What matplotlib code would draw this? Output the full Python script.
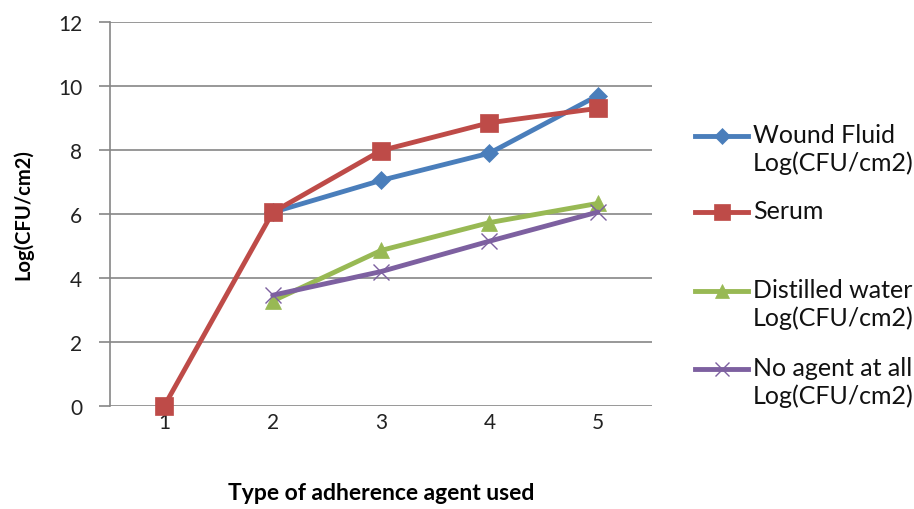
import matplotlib
matplotlib.use('Agg')
from matplotlib import pyplot as plt
from matplotlib.lines import Line2D

plt.rcParams['font.family'] = ['Lato', 'DejaVu Sans']

x = [1, 2, 3, 4, 5]
wound_fluid = [None, 6.05, 7.05, 7.9, 9.7]
serum = [0, 6.05, 7.98, 8.85, 9.3]
distilled = [None, 3.28, 4.86, 5.73, 6.33]
no_agent = [None, 3.46, 4.2, 5.15, 6.06]

labels = ['Wound Fluid\nLog(CFU/cm2)', 'Serum',
          'Distilled water\nLog(CFU/cm2)', 'No agent at all\nLog(CFU/cm2)']
colors = ['#4a7ebb', '#be4b48', '#98b954', '#7d60a0']
markers = ['D', 's', '^', 'x']
msizes = [9, 13, 12, 12]
series = [wound_fluid, serum, distilled, no_agent]

fig = plt.figure(figsize=(9.14, 5.10), dpi=100)
ax = fig.add_axes([0.1204, 0.202, 0.5930, 0.753])

for ys, c, m, ms in zip(series, colors, markers, msizes):
    xs = [a for a, b in zip(x, ys) if b is not None]
    yv = [b for b in ys if b is not None]
    ax.plot(xs, yv, color=c, lw=3.5, marker=m, markersize=ms,
            markeredgewidth=1 if m == 'x' else 0.5, markeredgecolor=c,
            solid_capstyle='round', zorder=3, clip_on=False)

ax.set_xlim(0.5, 5.5)
ax.set_ylim(0, 12)
ax.set_yticks(range(0, 13, 2))
ax.set_xticks(x)
ax.yaxis.grid(True, color='#868686', lw=1.2)
ax.set_axisbelow(True)
for s in ['top', 'right', 'bottom']:
    ax.spines[s].set_visible(False)
ax.spines['left'].set_color('#868686')
ax.spines['left'].set_linewidth(1.2)
ax.tick_params(axis='y', length=8, color='#868686', width=1.2, labelsize=15, pad=12,
               labelcolor='#222222')
ax.tick_params(axis='x', length=0, labelsize=15, pad=4, labelcolor='#222222')
ax.set_xlabel('Type of adherence agent used', fontsize=16.5, fontweight='bold', labelpad=36)
ax.set_ylabel('Log(CFU/cm2)', fontsize=14.5, fontweight='bold', labelpad=18)

# legend drawn by hand, handle aligned with first text line like Excel
leg_y = [137, 213, 292, 370]
for lab, c, m, ms, yy in zip(labels, colors, markers, msizes, leg_y):
    fy = 1 - yy / 510
    fig.add_artist(Line2D([695 / 914, 748 / 914], [fy, fy], color=c, lw=3.5,
                          transform=fig.transFigure))
    fig.add_artist(Line2D([721.5 / 914], [fy], color=c, marker=m,
                          markersize=ms * 0.85, markeredgewidth=1 if m == 'x' else 0.5,
                          markeredgecolor=c, transform=fig.transFigure))
    fig.text(753 / 914, fy + 13 / 510, lab, fontsize=18, va='top', ha='left',
             linespacing=1.25, color='#111111')

fig.savefig('out.png', dpi=100)
